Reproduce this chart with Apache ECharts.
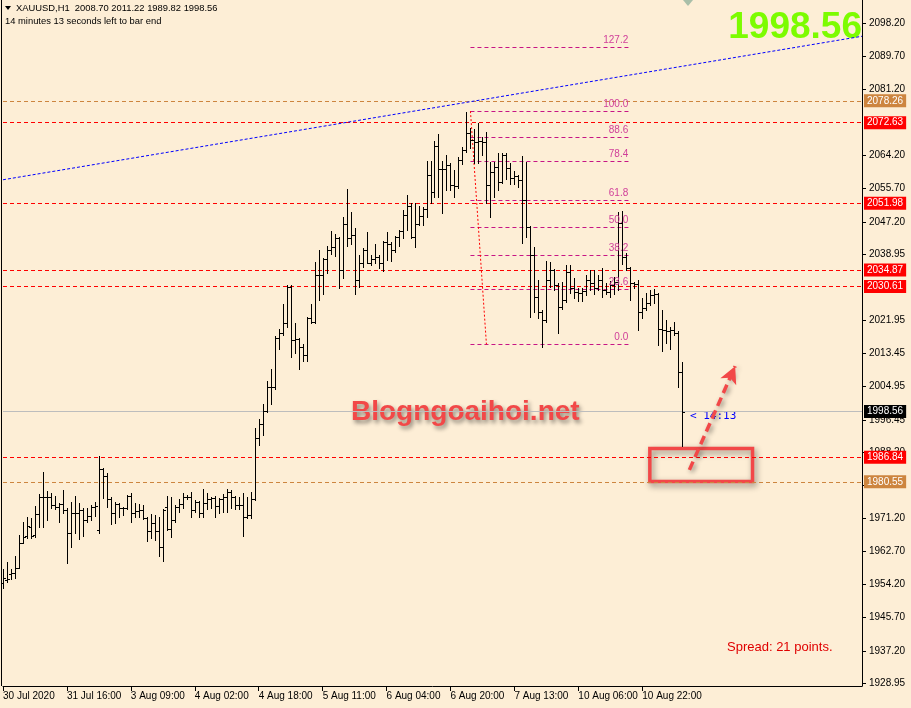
<!DOCTYPE html>
<html><head><meta charset="utf-8">
<script src="https://cdn.jsdelivr.net/npm/echarts@6/dist/echarts.min.js"></script>
<style>html,body{margin:0;padding:0;background:#FDEED6;}#c{width:911px;height:708px;}</style>
</head><body><div id="c"></div>
<script>
// ---------- DATA (XAUUSD H1) ----------
const openP=[1954.6,1955.4,1956.9,1957.2,1958.4,1964.9,1966.7,1969.0,1966.9,1972.3,1976.7,1976.6,1976.7,1974.6,1974.1,1974.9,1973.3,1967.4,1972.6,1972.5,1973.3,1970.8,1971.8,1974.1,1968.2,1983.8,1982.0,1976.1,1972.6,1974.9,1973.8,1973.8,1976.9,1972.6,1973.1,1973.3,1971.3,1967.9,1970.0,1967.9,1963.8,1974.1,1968.4,1970.8,1974.1,1974.9,1976.7,1976.6,1973.3,1975.4,1972.6,1975.1,1976.1,1976.4,1974.3,1976.1,1976.7,1977.9,1976.7,1974.6,1974.5,1971.5,1972.0,1976.1,1991.8,1995.4,1998.7,2004.9,2004.8,2017.4,2018.7,2021.3,2030.5,2016.9,2017.2,2015.1,2013.1,2022.6,2021.5,2033.6,2033.5,2037.7,2040.0,2040.8,2043.1,2034.9,2046.7,2043.1,2043.8,2032.3,2036.7,2040.0,2036.7,2037.7,2038.2,2036.7,2042.0,2041.5,2040.0,2043.3,2044.9,2049.0,2051.3,2043.3,2046.7,2048.7,2050.5,2059.2,2054.9,2066.7,2060.8,2060.8,2061.8,2056.7,2056.4,2063.1,2065.6,2070.0,2068.2,2067.7,2068.0,2067.7,2056.7,2060.0,2061.3,2057.4,2064.4,2061.0,2058.5,2059.0,2058.0,2052.8,2045.9,2038.7,2027.9,2024.1,2022.1,2032.3,2034.9,2031.0,2025.4,2027.2,2034.4,2030.2,2029.2,2029.0,2029.5,2032.3,2031.5,2030.2,2032.3,2029.7,2029.2,2031.0,2031.8,2046.9,2038.2,2035.4,2031.5,2031.3,2024.1,2025.1,2026.4,2028.5,2028.7,2019.7,2019.5,2019.2,2019.5,2018.7,2008.70];
const highP=[1958.2,1960.0,1958.2,1961.5,1966.9,1970.2,1971.5,1971.3,1974.3,1977.4,1983.1,1978.2,1977.7,1976.9,1975.1,1978.4,1973.8,1975.4,1976.9,1975.1,1973.8,1973.8,1974.6,1975.4,1987.2,1984.1,1982.8,1976.7,1975.4,1975.1,1974.1,1977.2,1977.7,1975.1,1974.9,1974.6,1971.5,1972.3,1972.0,1971.5,1973.6,1976.9,1976.7,1974.6,1976.1,1977.7,1977.2,1977.9,1975.9,1975.6,1978.7,1977.7,1976.7,1976.9,1976.4,1977.4,1978.7,1978.4,1976.9,1976.7,1977.7,1976.7,1977.9,1994.3,1996.7,2000.5,2006.4,2009.5,2017.9,2019.7,2026.1,2031.0,2031.0,2021.3,2017.4,2015.9,2022.8,2026.1,2036.9,2040.0,2037.9,2041.0,2044.9,2044.1,2043.3,2048.5,2055.6,2049.7,2045.6,2038.7,2040.5,2044.6,2038.7,2041.5,2038.7,2042.3,2044.6,2042.0,2043.6,2045.1,2050.3,2054.1,2052.0,2052.0,2051.3,2051.0,2062.8,2062.8,2068.0,2069.7,2062.8,2064.4,2062.3,2060.5,2063.8,2066.4,2075.4,2071.3,2071.0,2072.6,2069.0,2070.3,2062.6,2062.6,2064.9,2064.9,2064.9,2062.3,2060.3,2059.2,2064.1,2062.6,2046.2,2040.8,2032.3,2024.6,2037.2,2036.9,2035.1,2031.5,2031.8,2036.1,2036.1,2032.8,2030.2,2030.2,2033.6,2034.9,2034.9,2033.6,2035.4,2031.5,2032.0,2033.1,2049.7,2050.0,2039.2,2035.6,2031.8,2032.3,2027.7,2029.0,2029.7,2030.0,2029.0,2024.6,2022.1,2020.3,2021.5,2019.2,2011.22];
const lowP=[1953.3,1954.9,1955.6,1955.9,1958.4,1964.9,1966.1,1966.1,1966.4,1969.0,1969.0,1970.8,1973.8,1973.6,1970.2,1972.6,1959.7,1963.8,1967.4,1965.9,1966.7,1970.2,1970.8,1971.8,1967.4,1976.4,1974.1,1969.7,1970.0,1971.5,1972.0,1973.6,1970.2,1971.5,1971.5,1971.0,1965.4,1966.1,1965.6,1961.5,1960.2,1968.2,1966.4,1970.2,1972.8,1973.8,1976.1,1971.5,1972.8,1971.5,1971.5,1973.6,1973.8,1971.5,1972.6,1972.8,1972.8,1973.8,1973.6,1973.6,1966.7,1971.3,1971.3,1975.9,1990.0,1992.6,1998.4,2000.5,2004.3,2014.6,2018.2,2020.3,2012.6,2013.6,2009.5,2011.5,2011.5,2021.3,2021.3,2027.2,2028.7,2034.1,2039.0,2038.5,2030.2,2032.8,2041.0,2041.5,2028.7,2030.5,2035.6,2036.6,2036.1,2036.7,2035.4,2034.6,2037.4,2037.2,2039.5,2041.0,2043.1,2045.1,2043.1,2040.8,2046.4,2046.4,2048.5,2052.0,2053.6,2053.6,2049.5,2055.4,2055.4,2053.6,2055.9,2062.1,2065.1,2066.2,2062.3,2062.3,2064.4,2052.0,2048.5,2053.6,2055.4,2057.2,2058.2,2056.9,2056.9,2056.2,2041.8,2043.3,2022.8,2024.1,2022.6,2015.1,2021.5,2030.5,2029.7,2018.7,2024.9,2026.7,2029.0,2027.7,2026.9,2026.9,2028.5,2029.7,2028.7,2029.7,2027.9,2028.7,2027.9,2028.7,2029.7,2036.4,2034.9,2027.2,2030.2,2019.5,2022.6,2024.6,2025.9,2026.4,2015.6,2014.1,2016.2,2014.6,2018.2,2004.9,1989.82];
const closeP=[1955.9,1955.6,1957.2,1958.4,1964.9,1966.4,1969.2,1966.7,1972.3,1976.7,1976.6,1976.7,1974.6,1974.1,1974.9,1973.3,1967.4,1972.6,1972.5,1973.3,1970.8,1971.8,1974.1,1974.3,1983.8,1982.0,1976.1,1972.6,1974.9,1973.8,1973.8,1976.9,1972.6,1973.1,1973.3,1971.3,1967.9,1970.0,1967.9,1963.8,1973.3,1968.4,1970.8,1974.1,1974.9,1976.7,1976.6,1973.3,1975.4,1972.6,1975.1,1976.1,1976.4,1974.3,1976.1,1976.7,1977.9,1976.7,1974.6,1974.5,1971.5,1972.0,1976.1,1991.8,1995.4,1998.7,2004.9,2004.8,2017.4,2018.7,2021.3,2030.5,2016.9,2017.2,2015.1,2013.1,2022.6,2021.5,2033.6,2033.5,2037.7,2040.0,2040.8,2043.1,2034.9,2046.7,2043.1,2043.8,2032.3,2036.7,2040.0,2036.7,2037.7,2038.2,2036.7,2042.0,2041.5,2040.0,2043.3,2044.9,2049.0,2051.3,2043.3,2046.7,2048.7,2050.5,2059.2,2054.9,2066.7,2060.8,2060.8,2061.8,2056.7,2056.4,2063.1,2065.6,2070.0,2068.2,2067.7,2068.0,2067.7,2056.7,2060.0,2061.3,2057.4,2064.4,2061.0,2058.5,2059.0,2058.0,2052.8,2045.9,2038.7,2027.9,2024.1,2022.1,2032.3,2034.9,2031.0,2025.4,2027.2,2034.4,2030.2,2029.2,2029.0,2029.5,2032.3,2031.5,2030.2,2032.3,2029.7,2029.2,2031.0,2031.8,2046.9,2038.2,2035.4,2031.5,2031.3,2024.1,2025.1,2026.4,2028.5,2028.7,2019.7,2019.5,2019.2,2019.5,2018.7,2008.7,1998.56];

const timeTickIdx=[0,16,32,48,64,80,96,112,128,144,160];
const timeTickLabels=['30 Jul 2020','31 Jul 16:00','3 Aug 09:00','4 Aug 02:00','4 Aug 18:00','5 Aug 11:00','6 Aug 04:00','6 Aug 20:00','7 Aug 13:00','10 Aug 06:00','10 Aug 22:00'];
const priceTicks=[2098.20,2089.70,2081.20,2064.20,2055.70,2047.20,2038.95,2021.95,2013.45,2004.95,1996.45,1988.20,1979.70,1971.20,1962.70,1954.20,1945.70,1937.20,1928.95];

const levelPrices=[2078.26,2072.63,2051.98,2034.87,2030.61,1986.84,1980.55];
const levelKinds=['orange','red','red','red','red','red','orange'];

const fibLevels=[0,23.6,38.2,50,61.8,78.4,88.6,100,127.2];
const fibLow=2015.8, fibHigh=2075.6, fibFromIdx=117, fibToIdx=157;
const fibDiag=[[117,2075.6],[121,2015.8]];
const trendLine=[[0,2058.0],[215,2094.8]];
const boxCorners=[[161.9,1989.1],[187.6,1980.6]];
const arrowPts=[[171.8,1983.6],[183.25,2010.2]];

const symbolName='XAUUSD,H1';
const timerText='14 minutes 13 seconds left to bar end';
const countdown='< 14:13';
const spreadText='Spread: 21 points.';
const watermarkSite='Blogngoaihoi.net';

// ---------- CHART ----------
const FONT='"Liberation Sans", Arial, sans-serif';
const kindColor={red:'#FF0000', orange:'#CD853F'};
const N=openP.length;
const last=N-1;
const bars=openP.map((o,i)=>[i,o,highP[i],lowP[i],closeP[i]]);

function renderItem(params, api){
  const i=api.value(0);
  const pO=api.coord([i,api.value(1)]), pH=api.coord([i,api.value(2)]);
  const pL=api.coord([i,api.value(3)]), pC=api.coord([i,api.value(4)]);
  const x=Math.round(pO[0]);
  const yH=Math.round(pH[1]), yL=Math.round(pL[1]);
  const yO=Math.round(pO[1]), yC=Math.round(pC[1]);
  const st={fill:'#000'};
  return {type:'group', children:[
    {type:'rect', shape:{x:x, y:yH, width:1, height:Math.max(1,yL-yH+1)}, style:st},
    {type:'rect', shape:{x:x-2, y:yO, width:2, height:1}, style:st},
    {type:'rect', shape:{x:x+1, y:yC, width:2, height:1}, style:st}
  ]};
}

const ml=[];
levelPrices.forEach((v,k)=>{
  const col=kindColor[levelKinds[k]];
  ml.push({yAxis:v, lineStyle:{color:col,type:[4,3],width:1},
    label:{show:true,position:'end',formatter:v.toFixed(2),backgroundColor:col,color:'#fff',
      fontSize:10,fontFamily:FONT,padding:[2,3,1,3],distance:2}});
});
ml.push({yAxis:closeP[last], lineStyle:{color:'#BDBDBD',type:'solid',width:1},
  label:{show:true,position:'end',formatter:closeP[last].toFixed(2),backgroundColor:'#000',color:'#fff',
    fontSize:10,fontFamily:FONT,padding:[2,3,1,3],distance:2}});
fibLevels.forEach(l=>{
  const p=fibLow+(fibHigh-fibLow)*l/100;
  ml.push([{coord:[fibFromIdx,p], lineStyle:{color:'#C71585',type:[4,3],width:1},
    label:{show:true,position:'insideEndTop',formatter:l.toFixed(1),color:'#D0409A',fontSize:10,fontFamily:FONT,distance:2}},
    {coord:[fibToIdx,p]}]);
});
ml.push([{coord:trendLine[0], lineStyle:{color:'#0000FF',type:[3,2],width:1}},{coord:trendLine[1]}]);
ml.push([{coord:fibDiag[0], lineStyle:{color:'#FF0000',type:[2,2],width:1}},{coord:fibDiag[1]}]);
ml.push([{coord:arrowPts[0], symbol:'none', itemStyle:{color:'#F24848'},
   lineStyle:{color:'#F24848',width:3.5,type:[9,5],shadowBlur:5,shadowColor:'rgba(0,0,0,0.45)',shadowOffsetX:2,shadowOffsetY:2}},
  {coord:arrowPts[1], symbol:'arrow', symbolSize:[13,17], itemStyle:{color:'#F24848'}}]);

const option={
  backgroundColor:'#FDEED6',
  animation:false,
  grid:{left:2,right:49,top:0,bottom:22},
  xAxis:{type:'value',min:0,max:215,
    axisLine:{show:true,onZero:false,lineStyle:{color:'#000',width:1}},
    splitLine:{show:false},
    axisTick:{show:true,customValues:timeTickIdx,length:5,lineStyle:{color:'#000'}},
    axisLabel:{customValues:timeTickIdx,formatter:v=>timeTickLabels[timeTickIdx.indexOf(v)]||'',
      align:'left',margin:5,color:'#000',fontSize:10,fontFamily:FONT,hideOverlap:false}},
  yAxis:{type:'value',position:'right',min:1928.18,max:2104.1,
      axisLine:{show:true,onZero:false,lineStyle:{color:'#000'}},splitLine:{show:false},
      axisTick:{show:true,customValues:priceTicks,length:4,lineStyle:{color:'#000'}},
      axisLabel:{customValues:priceTicks,formatter:v=>v.toFixed(2),margin:7,color:'#000',fontSize:10,fontFamily:FONT,hideOverlap:false}},
  series:[{
    type:'custom', name:'XAUUSD', renderItem:renderItem, data:bars, encode:{x:0,y:[1,2,3,4]}, z:5,
    markLine:{silent:true,symbol:['none','none'],label:{show:false},data:ml,animation:false},
    markArea:{silent:true,data:[[{coord:boxCorners[0],itemStyle:{color:'rgba(0,0,0,0)',borderColor:'#F24848',borderWidth:3.5,
      shadowBlur:6,shadowColor:'rgba(0,0,0,0.45)',shadowOffsetX:2,shadowOffsetY:3}},{coord:boxCorners[1]}]]}
  }],
  graphic:[
    {type:'line',shape:{x1:1.5,y1:0,x2:1.5,y2:686},style:{stroke:'#000',lineWidth:1}},
    {type:'polygon',shape:{points:[[5,6],[11,6],[8,10]]},style:{fill:'#000'}},
    {type:'text',left:16,top:4,style:{text:symbolName+'  '+[openP[last],highP[last],lowP[last],closeP[last]].map(v=>v.toFixed(2)).join(' '),fill:'#000',font:'9.4px '+FONT}},
    {type:'text',left:5,top:17,style:{text:timerText,fill:'#000',font:'9.4px '+FONT}},
    {type:'polygon',shape:{points:[[683,0],[693,0],[688,6]]},style:{fill:'#A9BFA9'}},
    {type:'text',right:49,top:9,style:{text:closeP[last].toFixed(2),fill:'#7CFC00',font:'bold 37px '+FONT}},
    {type:'text',left:351,top:398,style:{text:watermarkSite,fill:'#F24848',font:'bold 28px '+FONT,
      textShadowColor:'rgba(0,0,0,0.45)',textShadowBlur:4,textShadowOffsetX:2,textShadowOffsetY:3}},
    {type:'text',left:690,top:411,style:{text:countdown,fill:'#0000FF',font:'11px "DejaVu Sans Mono", monospace'}},
    {type:'text',left:727,top:641,style:{text:spreadText,fill:'#E00000',font:'13px '+FONT}}
  ]
};
const chart=echarts.init(document.getElementById('c'));
chart.setOption(option);
</script>
</body></html>
